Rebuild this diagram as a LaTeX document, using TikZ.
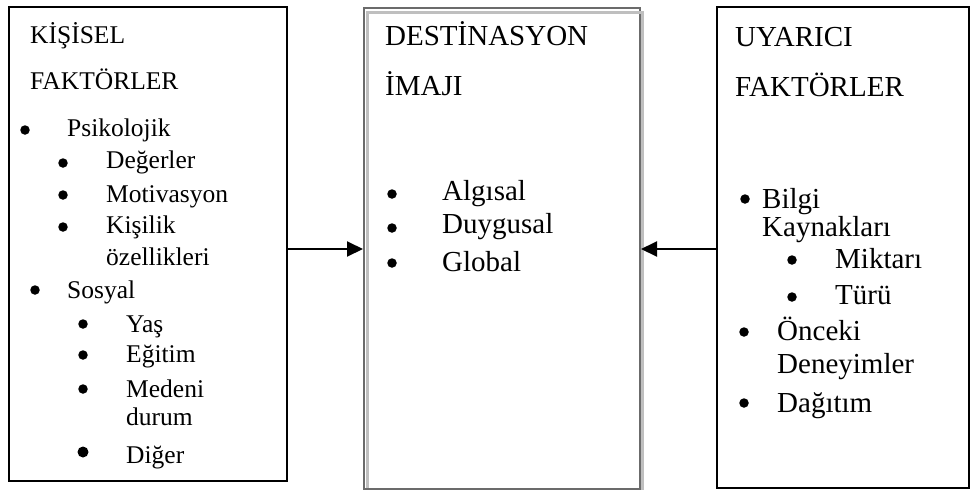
\documentclass[tikz,border=0pt]{standalone}
\usepackage{fontspec}
\setmainfont{Liberation Serif}
\usetikzlibrary{arrows.meta}
\begin{document}
\begin{tikzpicture}[x=1pt,y=-1pt,
  smalltxt/.style={anchor=base west, inner sep=0pt, font=\fontsize{25.5}{30}\selectfont},
  bigtxt/.style={anchor=base west, inner sep=0pt, font=\fontsize{29}{34}\selectfont},
  dot/.style={circle, fill=black, inner sep=0pt, minimum size=9.5pt},
  bigdot/.style={dot, minimum size=11pt},
  panel/.style={rectangle, draw=black, line width=1.8pt, inner sep=0pt},
  midpanel/.style={rectangle, draw=black!58, line width=2pt, inner sep=0pt},
  link/.style={line width=2pt, -{Triangle[length=16pt,width=15pt]}}
]
\useasboundingbox (0,0) rectangle (972,491);

% the three panels
\node[panel, minimum width=278pt, minimum height=474pt] (kisisel) at (148,244) {};
\node[midpanel, minimum width=276pt, minimum height=481pt] (imaj) at (502,248.5) {};
\node[panel, minimum width=252pt, minimum height=481pt] (uyarici) at (843,247.5) {};

% light inner/outer rule of the middle panel
\draw[black!25, line width=2.2pt] (367.5,488) -- (367.5,12.5) -- (642.5,12.5) -- (642.5,490);

% left panel: personal factors
\node[smalltxt] (k1) at (30,43) {KİŞİSEL};
\node[smalltxt] (k2) at (30,89) {FAKTÖRLER};
\node[dot] (kb1) at (25,130) {};
\node[smalltxt] (k3) at (67,136) {Psikolojik};
\node[dot] (kb2) at (63,163) {};
\node[smalltxt] (k4) at (106,168) {Değerler};
\node[dot] (kb3) at (63,195) {};
\node[smalltxt] (k5) at (106,202) {Motivasyon};
\node[dot] (kb4) at (63,227) {};
\node[smalltxt] (k6) at (106,233) {Kişilik};
\node[smalltxt] (k7) at (106,265) {özellikleri};
\node[dot] (kb5) at (35,290) {};
\node[smalltxt] (k8) at (67,298) {Sosyal};
\node[dot] (kb6) at (83,324) {};
\node[smalltxt] (k9) at (126,332) {Yaş};
\node[dot] (kb7) at (83,355) {};
\node[smalltxt] (k10) at (126,362) {Eğitim};
\node[dot] (kb8) at (83,389) {};
\node[smalltxt] (k11) at (126,397) {Medeni};
\node[smalltxt] (k12) at (126,425) {durum};
\node[bigdot] (kb9) at (83,452) {};
\node[smalltxt] (k13) at (126,463) {Diğer};

% middle panel: destination image
\node[bigtxt] (d1) at (385,45) {DESTİNASYON};
\node[bigtxt] (d2) at (385,95) {İMAJI};
\node[dot] (db1) at (392,194) {};
\node[bigtxt] (d3) at (442,200) {Algısal};
\node[dot] (db2) at (392,228) {};
\node[bigtxt] (d4) at (442,233) {Duygusal};
\node[dot] (db3) at (392,263) {};
\node[bigtxt] (d5) at (442,271) {Global};

% right panel: stimulus factors
\node[bigtxt] (u1) at (735,46) {UYARICI};
\node[bigtxt] (u2) at (735,96) {FAKTÖRLER};
\node[dot] (ub1) at (745,199) {};
\node[bigtxt] (u3) at (762,208) {Bilgi};
\node[bigtxt] (u4) at (762,236) {Kaynakları};
\node[dot] (ub2) at (792,260) {};
\node[bigtxt] (u5) at (835,268) {Miktarı};
\node[dot] (ub3) at (792,297) {};
\node[bigtxt] (u6) at (835,304) {Türü};
\node[dot] (ub4) at (744,332) {};
\node[bigtxt] (u7) at (777,340) {Önceki};
\node[bigtxt] (u8) at (777,373) {Deneyimler};
\node[dot] (ub5) at (744,403) {};
\node[bigtxt] (u9) at (777,412) {Dağıtım};

% connectors into the destination image
\draw[link] (kisisel.east |- 0,249) -- (imaj.west |- 0,249);
\draw[link] (uyarici.west |- 0,249) -- (imaj.east |- 0,249);
\end{tikzpicture}
\end{document}
